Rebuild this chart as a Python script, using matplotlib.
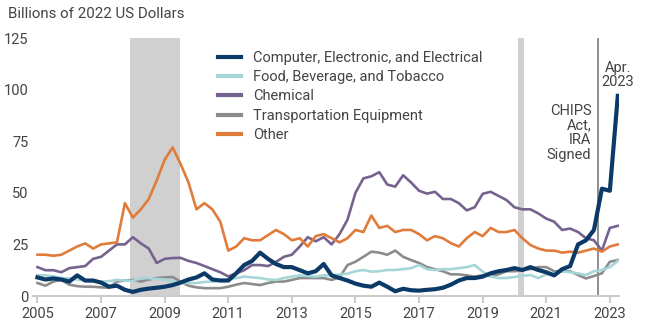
import numpy as np
import matplotlib
matplotlib.use("Agg")
import matplotlib.pyplot as plt

plt.rcParams['font.family'] = ['Roboto', 'DejaVu Sans']

# quarterly points, Jan 2005 .. Apr 2023
start_year = 2005
n_points = 74

computer = [9, 8, 8.5, 8, 7, 10, 7.5, 7.5, 6.5, 4.5, 5, 3,
            2, 3, 3.6, 4, 4.5, 5.3, 6.5, 8, 9, 11, 8, 7.5,
            7.5, 11, 15, 17, 21, 18, 15.5, 14, 14, 12.5, 11, 12,
            15.5, 10, 8.7, 7.5, 6, 5, 4.5, 6.5, 4.5, 2.3, 3.5, 2.8,
            2.6, 3, 3.3, 4, 5.5, 7.5, 8.7, 8.7, 9.4, 11, 12, 12.6,
            13.5, 12.6, 14, 12.6, 11.5, 10, 13, 14.5, 25, 27, 32, 52,
            51, 97]
food = [10, 10, 9.5, 8.7, 8.5, 8, 7.5, 7, 7, 7.2, 7.8, 7.5,
        7.3, 8.7, 8.7, 8.2, 8, 7, 6.5, 6.3, 6.3, 6.8, 7, 7.5,
        8, 8.7, 9.4, 9, 8.7, 8, 7.8, 8.7, 9.4, 10, 9.7, 9.4,
        10, 10, 10.5, 10.8, 12, 12.6, 11.8, 12, 12.6, 12.6, 13, 13.5,
        15, 13, 12.6, 13, 13, 13.5, 14, 15, 11.8, 9.5, 8.7, 8.7,
        9.2, 9.7, 10.2, 8.7, 10.5, 11, 12, 11.5, 11, 10.2, 12, 12.6,
        14, 17]
chemical = [14, 12.5, 12.5, 11.5, 13.5, 14, 14.5, 18, 19, 22, 25, 25,
            28.5, 25.5, 23, 16, 18, 18.4, 18.5, 17, 16, 14.5, 13, 11.5,
            9.5, 11, 12.5, 15, 15, 14.5, 16.5, 19, 20, 24, 28.5, 26.5,
            28.5, 25, 30, 37, 50, 57, 58, 60, 54, 53, 58.5, 55,
            51, 49.6, 50.5, 47, 47, 45, 41.5, 43, 49.5, 50.5, 48.5, 46.5,
            43, 42, 42, 40, 37.5, 36, 32, 32.7, 31, 28, 27, 22,
            33, 34]
transport = [6.3, 5, 7, 7.8, 5.5, 4.8, 4.5, 4.5, 4.2, 4, 7, 7.5,
             7.8, 7, 8, 8.7, 9, 9.2, 7, 5, 4.2, 3.8, 3.8, 3.8,
             4.5, 5.5, 6.3, 5.8, 5.3, 6.3, 7, 7, 7.8, 8.7, 8.7, 8.7,
             8.7, 7.8, 9, 15, 16.6, 19, 21.5, 21, 20, 22, 19, 17.4,
             16, 14, 13, 12, 10.5, 10.5, 10, 9.4, 10, 9.7, 10.5, 12,
             12, 12.5, 13, 14, 14, 12, 12, 12, 10.2, 8.5, 9.7, 11,
             16.6, 17.4]
other = [20, 20, 19.5, 20, 22, 24, 25.5, 23, 25, 25.5, 26, 45,
         38, 42, 47, 56, 66, 72, 64, 55, 42, 45, 42, 36,
         22, 24, 28, 27, 27, 29.5, 32, 30, 27, 28, 24, 29,
         30, 28, 26, 28, 32, 31, 39, 33, 34, 31, 32, 32,
         30, 27, 29, 28, 25.6, 24, 28, 31, 29, 33, 31, 31,
         32, 28, 24.7, 23, 22, 22, 21, 21.5, 21, 22, 23, 21.5,
         24, 25]

labels = ['Computer, Electronic, and Electrical', 'Food, Beverage, and Tobacco',
          'Chemical', 'Transportation Equipment', 'Other']
colors = ['#0b3a68', '#a6d6d8', '#76628f', '#8c8c8c', '#e07c3b']

recessions = [(2007.92, 2009.48), (2020.12, 2020.29)]
chips_date = 2022.62

t = start_year + np.arange(n_points) * 0.25

fig = plt.figure(figsize=(6.5, 3.25), dpi=100)
ax = fig.add_axes([0.0503, 0.0892, 0.9026, 0.7938])

for a, b in recessions:
    ax.axvspan(a, b, color='#d0d0d0', lw=0, zorder=0)
ax.axvline(chips_date, color='#7a7a7a', lw=1.2, zorder=1)

series = [computer, food, chemical, transport, other]
widths = [3.0, 1.9, 1.9, 1.9, 1.9]
order = [6, 3, 4, 2, 5]
for s, lab, c, w, z in zip(series, labels, colors, widths, order):
    ax.plot(t, s, color=c, lw=w, label=lab, zorder=z, solid_joinstyle='round')

ax.set_xlim(2004.85, 2023.3)
ax.set_ylim(0, 125)
ax.set_xticks(range(2005, 2024, 2))
ax.set_yticks([0, 25, 50, 75, 100, 125])
for sp in ['top', 'right', 'left']:
    ax.spines[sp].set_visible(False)
ax.spines['bottom'].set_color('#cccccc')
ax.spines['bottom'].set_linewidth(1.5)
ax.tick_params(axis='x', colors='#cccccc', length=5, width=1.5,
               labelcolor='#444444', labelsize=10.5, pad=3)
ax.tick_params(axis='y', length=0, labelcolor='#444444', labelsize=10.5, pad=3)

fig.text(8 / 650, 1 - 14 / 325, 'Billions of 2022 US Dollars', fontsize=10.8,
         color='#444444', va='center', ha='left')

ax.text(2023.25, 113.8, 'Apr.\n2023', ha='center', va='top', fontsize=10.5,
        color='#444444', linespacing=0.95)
ax.text(chips_date - 0.2, 93, 'CHIPS\nAct,\nIRA\nSigned', ha='right', va='top',
        fontsize=10.5, color='#444444', linespacing=1.05)

leg = ax.legend(loc='upper left', bbox_to_anchor=(218 / 650, 1 - 51 / 325),
                bbox_transform=fig.transFigure, frameon=False, fontsize=10.5,
                handlelength=1.6, handletextpad=0.8, labelspacing=0.36,
                borderpad=0, borderaxespad=0)
for txt in leg.get_texts():
    txt.set_color('#444444')
for h in leg.get_lines():
    h.set_linewidth(3.0)

fig.savefig('out.png', dpi=100)
